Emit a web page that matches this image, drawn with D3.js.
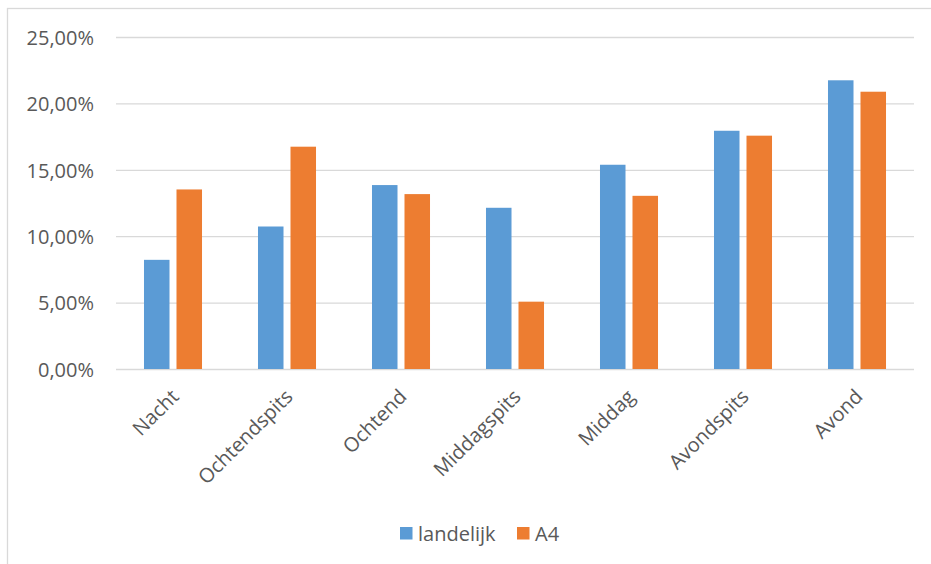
<!DOCTYPE html>
<html><head><meta charset="utf-8">
<script src="https://cdn.jsdelivr.net/npm/d3@7"></script>
<style>
body{margin:0;background:#fff;}
text{font-family:"Open Sans",sans-serif;fill:#595959;}
</style></head>
<body><svg id="c" width="931" height="564"></svg>
<script>
const categories = ["Nacht","Ochtendspits","Ochtend","Middagspits","Middag","Avondspits","Avond"];
const seriesNames = ["landelijk","A4"];
const landelijk = [8.22,10.73,13.85,12.14,15.38,17.94,21.74];
const a4 = [13.52,16.74,13.17,5.07,13.04,17.57,20.88];
const yTicks = [0,5,10,15,20,25];
const colors = ["#5B9BD5","#ED7D31"];

(function(){
const svg = d3.select("#c");
svg.append("rect").attr("x",7.5).attr("y",8.5).attr("width",1000).attr("height",1000)
  .attr("fill","none").attr("stroke","#D9D9D9").attr("stroke-width",1.3);

const pLeft=116,pRight=914,pTop=37,pBottom=369;
const y = d3.scaleLinear().domain([0,25]).range([pBottom,pTop]);
const x0 = d3.scaleBand().domain(categories).range([pLeft,pRight]).paddingInner(0.491).paddingOuter(0.2455);
const x1 = d3.scaleBand().domain(seriesNames).range([0,x0.bandwidth()]).paddingInner(0.215);

const fmt = v => d3.format(".2f")(v).replace(".",",")+"%";
const yAxis = d3.axisLeft(y).tickValues(yTicks).tickSize(-(pRight-pLeft)).tickFormat(fmt).tickPadding(22);
const gy = svg.append("g").attr("transform",`translate(${pLeft},0)`).call(yAxis);
gy.select(".domain").remove();
gy.selectAll(".tick line").attr("stroke","#D9D9D9").attr("stroke-width",1.3);
gy.selectAll(".tick text").attr("font-size","20px").attr("fill","#595959").attr("dy","0.36em");

const data = categories.map((c,i)=>({c, vals:[landelijk[i],a4[i]]}));
const g = svg.append("g");
data.forEach(d=>{
  d.vals.forEach((v,j)=>{
    g.append("rect").attr("x",x0(d.c)+x1(seriesNames[j])).attr("width",x1.bandwidth())
      .attr("y",y(v)).attr("height",y(0)-y(v)).attr("fill",colors[j]);
  });
});

const xAxis = d3.axisBottom(x0).tickSize(0).tickPadding(0);
const gx = svg.append("g").attr("transform",`translate(0,${pBottom})`).call(xAxis);
gx.select(".domain").remove();
gx.selectAll(".tick text").attr("font-size","20px").attr("fill","#595959")
  .attr("text-anchor","end").attr("transform","translate(2,24) rotate(-45)").attr("dy","0.35em");

const leg = svg.append("g");
const legX=[400,517], legText=["landelijk","A4"];
seriesNames.forEach((s,j)=>{
  leg.append("rect").attr("x",legX[j]).attr("y",527).attr("width",12.5).attr("height",12.5).attr("fill",colors[j]);
  leg.append("text").attr("x",legX[j]+18).attr("y",533.5).attr("dy","0.35em").attr("font-size","20px").text(legText[j]);
});
})();
</script></body></html>
